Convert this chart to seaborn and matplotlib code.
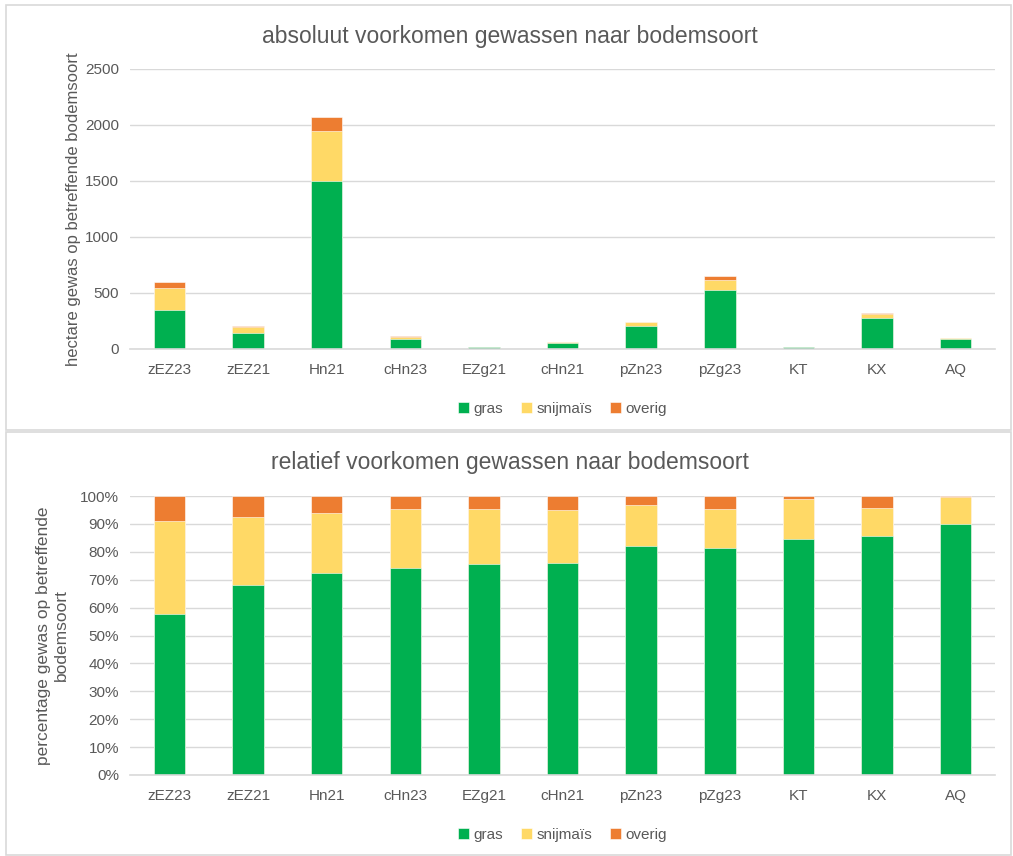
import numpy as np
import pandas as pd
import matplotlib
matplotlib.use("Agg")
import matplotlib.pyplot as plt
import seaborn as sns
from matplotlib.patches import Rectangle
from matplotlib.ticker import FuncFormatter

# data (hectare per bodemsoort)
categories = ['zEZ23', 'zEZ21', 'Hn21', 'cHn23', 'EZg21', 'cHn21', 'pZn23', 'pZg23', 'KT', 'KX', 'AQ']
gras = [345, 142, 1500, 86, 15.1, 50.2, 201, 528, 15.2, 278, 88]
snijmais = [199, 50, 445, 24.5, 4.0, 12.4, 36, 91, 2.6, 32, 9.7]
overig = [54, 16, 130, 5.5, 0.9, 3.4, 8, 31, 0.2, 14, 0.3]

series_names = ['gras', 'snijmaïs', 'overig']
colors = ['#00B050', '#FFD966', '#ED7D31']

df = pd.DataFrame({'bodem': categories, 'gras': gras, 'snijmaïs': snijmais, 'overig': overig})
df['totaal'] = df[series_names].sum(axis=1)
pct = df.copy()
for s in series_names:
    pct[s] = df[s] / df['totaal']

sns.set_style("white")
plt.rcParams['font.family'] = ['Liberation Sans Narrow', 'Liberation Sans', 'DejaVu Sans']
txt = '#595959'

fig = plt.figure(figsize=(10.13, 8.56), dpi=100)

# panel borders
for y0, h in [(1 - 430 / 856, 425 / 856), (1 - 855 / 856, 423 / 856)]:
    fig.patches.append(Rectangle((6 / 1013, y0), 1005 / 1013, h, transform=fig.transFigure,
                                 fill=False, edgecolor='#D9D9D9', linewidth=1.2))

ax1 = fig.add_axes([130 / 1013, 1 - 349 / 856, 865 / 1013, 280 / 856])
ax2 = fig.add_axes([130 / 1013, 1 - 775 / 856, 865 / 1013, 279 / 856])


def stacked(ax, data):
    cum = data[series_names].cumsum(axis=1)
    # draw from top of stack down so lower layers cover upper ones
    for s, c in reversed(list(zip(series_names, colors))):
        sns.barplot(x=data['bodem'], y=cum[s], color=c, width=0.4, ax=ax,
                    edgecolor='white', linewidth=0.4, label=s, saturation=1)
    ax.set_xlabel('')
    ax.grid(axis='y', color='#D9D9D9', linewidth=1)
    ax.set_axisbelow(True)
    for sp in ['top', 'right', 'left']:
        ax.spines[sp].set_visible(False)
    ax.spines['bottom'].set_color('#D9D9D9')
    ax.spines['bottom'].set_linewidth(1.2)
    ax.tick_params(axis='both', length=0, colors=txt, labelsize=11, pad=8)
    ax.tick_params(axis='x', pad=10)
    ax.set_xlim(-0.5, len(categories) - 0.5)
    handles, labels = ax.get_legend_handles_labels()
    order = [labels.index(s) for s in series_names]
    return [handles[i] for i in order]


leg_kw = dict(loc='upper center', bbox_to_anchor=(0.5, -0.14), ncol=3, frameon=False,
              fontsize=11, handlelength=0.7, handleheight=0.7, handletextpad=0.3,
              columnspacing=1.2, labelcolor=txt)

h1 = stacked(ax1, df)
ax1.set_ylim(0, 2500)
ax1.set_yticks(np.arange(0, 2501, 500))
ax1.set_ylabel('hectare gewas op betreffende bodemsoort', color=txt, fontsize=12, labelpad=3)
fig.text(510 / 1013, 1 - 36 / 856, 'absoluut voorkomen gewassen naar bodemsoort',
         color=txt, fontsize=16.5, ha='center', va='center')
ax1.legend(h1, series_names, **leg_kw)

h2 = stacked(ax2, pct)
ax2.set_ylim(0, 1)
ax2.set_yticks(np.arange(0, 1.01, 0.1))
ax2.yaxis.set_major_formatter(FuncFormatter(lambda v, p: f'{v * 100:.0f}%'))
ax2.set_ylabel('percentage gewas op betreffende\nbodemsoort', color=txt, fontsize=12.5, labelpad=8)
fig.text(510 / 1013, 1 - 462 / 856, 'relatief voorkomen gewassen naar bodemsoort',
         color=txt, fontsize=16.5, ha='center', va='center')
ax2.legend(h2, series_names, **leg_kw)

fig.savefig('out.png', dpi=100, facecolor='white')
